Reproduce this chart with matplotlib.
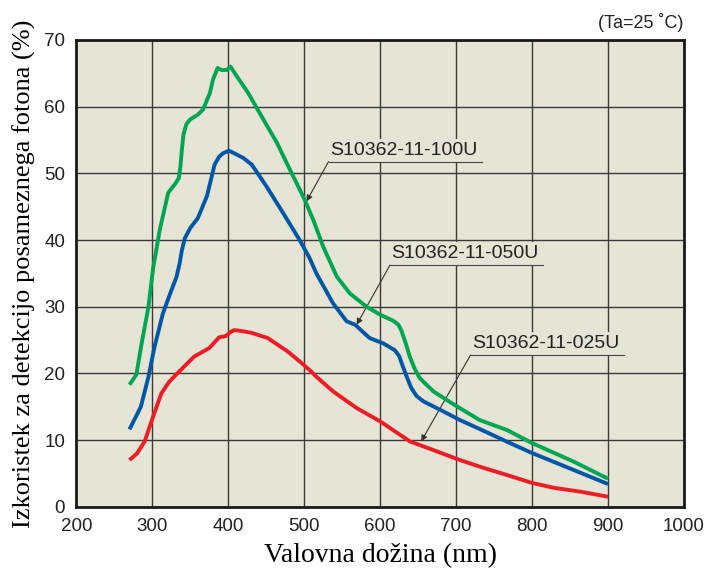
import matplotlib
matplotlib.use('Agg')
import matplotlib.pyplot as plt
from matplotlib import font_manager

# wavelength (nm) / photon detection efficiency (%)
wl_100 = [270, 279, 286, 295, 301, 310, 321, 330, 335, 337, 339, 341, 345, 350, 360, 367, 376, 380, 386, 391,
          398, 403, 411, 426, 437, 464, 481, 500, 512, 525, 543, 560, 582, 600, 617, 624, 628, 634, 639, 645,
          652, 670, 696, 731, 767, 799, 855, 900]
pde_100 = [18.3, 19.8, 24.5, 30.0, 35.7, 41.6, 47.1, 48.4, 49.3, 51.0, 53.6, 55.8, 57.4, 58.1, 58.8, 59.6, 62.1,
           64.1, 65.8, 65.5, 65.5, 66.0, 64.6, 62.1, 59.9, 54.6, 50.6, 46.2, 43.0, 39.0, 34.5, 32.0, 30.0, 28.8,
           27.9, 27.3, 26.4, 24.4, 22.5, 20.8, 19.3, 17.3, 15.4, 13.0, 11.5, 9.6, 6.75, 4.2]

wl_050 = [270, 285, 295, 303, 314, 323, 332, 336, 339, 343, 350, 360, 372, 382, 388, 393, 401, 420, 431, 450,
          472, 494, 507, 516, 538, 556, 567, 586, 604, 619, 625, 630, 636, 641, 648, 657, 683, 705, 734, 767,
          799, 855, 900]
pde_050 = [11.6, 15.0, 19.5, 24.0, 29.0, 31.8, 34.5, 36.5, 38.5, 40.3, 41.8, 43.3, 46.6, 51.3, 52.5, 53.0, 53.4,
           52.3, 51.3, 48.1, 44.1, 40.0, 37.3, 35.0, 30.5, 27.8, 27.3, 25.3, 24.5, 23.5, 22.6, 21.0, 19.2, 17.8,
           16.6, 15.8, 14.3, 13.0, 11.5, 9.75, 8.1, 5.5, 3.4]

wl_025 = [270, 280, 290, 301, 312, 322, 333, 355, 375, 388, 397, 403, 408, 420, 430, 452, 478, 494, 509, 516,
          538, 569, 600, 613, 639, 670, 705, 734, 767, 799, 828, 864, 900]
pde_025 = [7.0, 8.0, 9.8, 13.5, 17.0, 18.7, 20.0, 22.5, 23.8, 25.4, 25.6, 26.2, 26.5, 26.3, 26.1, 25.3, 23.3, 21.8,
           20.3, 19.5, 17.3, 14.8, 12.8, 11.8, 9.8, 8.5, 7.0, 5.9, 4.75, 3.6, 2.85, 2.25, 1.5]

labels = ['S10362-11-100U', 'S10362-11-050U', 'S10362-11-025U']
# label anchor (left end of underline), underline right end, arrow tip
lab_pos = [(532, 51.75), (613, 36.25), (719, 22.75)]
lab_end = [734, 815, 921]
arrow_tip = [(503, 45.8), (569, 27.3), (654, 9.8)]

xticks = [200, 300, 400, 500, 600, 700, 800, 900, 1000]
yticks = [0, 10, 20, 30, 40, 50, 60, 70]

bg = '#E6E4D5'
green = '#00A651'
blue = '#0057A8'
red = '#EE1D25'

names = {f.name for f in font_manager.fontManager.ttflist}
tickfont = 'Liberation Sans Narrow' if 'Liberation Sans Narrow' in names else 'Liberation Sans'

fig = plt.figure(figsize=(7.08, 5.77), dpi=100)
ax = fig.add_axes([0.1078, 0.1218, 0.8583, 0.8089])
ax.set_facecolor(bg)

ax.plot(wl_100, pde_100, color=green, lw=2.8, zorder=4, solid_capstyle='butt', solid_joinstyle='round')
ax.plot(wl_050, pde_050, color=blue, lw=2.8, zorder=4, solid_capstyle='butt', solid_joinstyle='round')
ax.plot(wl_025, pde_025, color=red, lw=2.8, zorder=4, solid_capstyle='butt', solid_joinstyle='round')

for i in range(3):
    x0, y0 = lab_pos[i]
    ax.text(x0 + 2, y0 + 0.4, labels[i], fontsize=14, family='Liberation Sans', color='#222222',
            ha='left', va='bottom', zorder=3,
            bbox=dict(facecolor=bg, edgecolor='none', pad=2.5))
    ax.plot([x0, lab_end[i]], [y0, y0], color='#444444', lw=0.8, zorder=3.5)
    ax.annotate('', xy=arrow_tip[i], xytext=(x0, y0), zorder=3.5,
                arrowprops=dict(arrowstyle='-|>', color='#333333', lw=0.8,
                                mutation_scale=9, shrinkA=0, shrinkB=0))

ax.set_xlim(200, 1000)
ax.set_ylim(0, 70)
ax.set_xticks(xticks)
ax.set_yticks(yticks)
ax.grid(True, color='#3a3a3a', lw=1.0, zorder=1)
ax.set_axisbelow(True)
ax.tick_params(length=0, labelsize=13.5, pad=8)
for lab in ax.get_xticklabels() + ax.get_yticklabels():
    lab.set_family(tickfont)
    lab.set_color('#222222')
for s in ax.spines.values():
    s.set_linewidth(2.0)
    s.set_color('#1a1a1a')

ax.set_xlabel('Valovna dožina (nm)', fontsize=20, family='Liberation Serif', labelpad=6)
ax.set_ylabel('Izkoristek za detekcijo posameznega fotona (%)', fontsize=19, family='Liberation Serif', labelpad=6)

fig.text(683 / 708, 1 - 22 / 577, '(Ta=25 ˚C)', fontsize=13, family=tickfont, ha='right', va='center',
         color='#222222')

fig.savefig('out.png', dpi=100)
